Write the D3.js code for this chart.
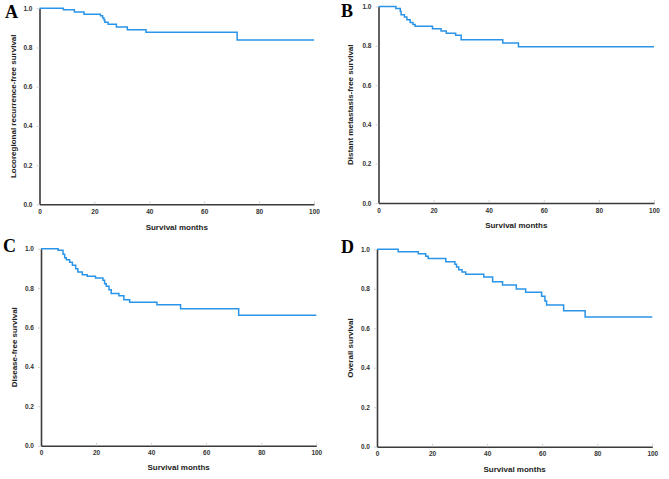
<!DOCTYPE html>
<html>
<head>
<meta charset="utf-8">
<script src="https://cdn.jsdelivr.net/npm/d3@7"></script>
<style>
  html, body { margin: 0; padding: 0; background: #fff; }
  svg { display: block; }
</style>
</head>
<body>
<svg id="chart" width="669" height="479"></svg>
<script>
// ---- Data ----
const panelLetters = ["A", "B", "C", "D"];
const yTitles = [
  "Locoregional recurrence-free survival",
  "Distant metastasis-free survival",
  "Disease-free survival",
  "Overall survival"
];
const xTitle = "Survival months";
const xTicks = [0, 20, 40, 60, 80, 100];
const yTicks = [0.0, 0.2, 0.4, 0.6, 0.8, 1.0];

const monthsA = [0, 8.7, 12.7, 16.2, 22.2, 23.0, 23.5, 23.8, 25.0, 28.0, 32.0, 38.8, 72.0, 100];
const survA   = [1, 0.992, 0.981, 0.970, 0.962, 0.950, 0.940, 0.929, 0.918, 0.905, 0.890, 0.878, 0.838, 0.838];

const monthsB = [0, 6.3, 7.9, 8.2, 9.4, 10.3, 11.5, 12.5, 13.3, 19.6, 22.7, 24.6, 28.0, 30.0, 45.1, 50.8, 100];
const survB   = [1, 0.990, 0.976, 0.958, 0.946, 0.932, 0.919, 0.909, 0.899, 0.887, 0.875, 0.864, 0.854, 0.831, 0.814, 0.795, 0.795];

const monthsC = [0, 6.2, 8.0, 8.6, 9.2, 10.4, 11.4, 12.6, 13.4, 15.0, 16.8, 19.8, 22.5, 23.1, 23.7, 24.7, 25.5, 28.3, 30.1, 32.2, 42.1, 50.7, 71.8, 100];
const survC   = [1, 0.992, 0.972, 0.954, 0.944, 0.931, 0.916, 0.898, 0.882, 0.868, 0.860, 0.851, 0.840, 0.822, 0.809, 0.792, 0.772, 0.761, 0.741, 0.728, 0.716, 0.695, 0.662, 0.662];

const monthsD = [0, 7.7, 15.0, 17.7, 18.6, 25.0, 28.3, 28.9, 29.7, 30.9, 32.2, 38.8, 42.0, 45.6, 50.6, 54.0, 59.8, 61.0, 61.6, 67.8, 75.6, 100];
const survD   = [1, 0.988, 0.978, 0.965, 0.954, 0.937, 0.924, 0.910, 0.897, 0.885, 0.873, 0.860, 0.836, 0.819, 0.799, 0.782, 0.762, 0.738, 0.718, 0.689, 0.657, 0.657];

const seriesMonths = [monthsA, monthsB, monthsC, monthsD];
const seriesSurv = [survA, survB, survC, survD];

// ---- Layout (plot frames in pixels) ----
const frames = [
  { x0: 39.5, x1: 314.0, yTop: 8.3,   yBot: 204.3, letterX: 5,   letterY: 17.5, titleX: 13.5,  xTitleY: 227.5 },
  { x0: 378.5, x1: 654.0, yTop: 6.5,  yBot: 203.0, letterX: 341, letterY: 16.5, titleX: 350.5, xTitleY: 225.5 },
  { x0: 41.0, x1: 316.3, yTop: 248.7, yBot: 445.7, letterX: 3,   letterY: 251.5, titleX: 15,   xTitleY: 467.5 },
  { x0: 377.0, x1: 652.3, yTop: 249.3, yBot: 446.7, letterX: 341, letterY: 252.5, titleX: 350.5, xTitleY: 469.5 }
];

const svg = d3.select("#chart");
const FONT = "'Liberation Sans', Arial, Helvetica, sans-serif";

frames.forEach((f, i) => {
  const x = d3.scaleLinear().domain([0, 100]).range([f.x0, f.x1]);
  const y = d3.scaleLinear().domain([0, 1]).range([f.yBot, f.yTop]);
  const g = svg.append("g");

  // x axis
  const gx = g.append("g")
    .attr("transform", `translate(0,${f.yBot})`)
    .call(d3.axisBottom(x).tickValues(xTicks).tickFormat(d3.format("d"))
      .tickSizeInner(-3).tickSizeOuter(0).tickPadding(5));
  // y axis
  const gy = g.append("g")
    .attr("transform", `translate(${f.x0},0)`)
    .call(d3.axisLeft(y).tickValues(yTicks).tickFormat(d3.format(".1f"))
      .tickSizeInner(3).tickSizeOuter(0).tickPadding(4));

  [gx, gy].forEach(a => {
    a.select(".domain").attr("stroke", "#3a3a3a").attr("stroke-width", 1.6);
    a.selectAll(".tick line").attr("stroke", "#c8c8c8").attr("stroke-width", 0.8);
    a.selectAll(".tick text")
      .attr("fill", "#333")
      .style("font-family", FONT)
      .style("font-size", "6.5px")
      .style("font-weight", "bold");
  });
  gx.selectAll(".tick line").attr("stroke-width", 0.8);

  // curve
  const pts = seriesMonths[i].map((m, k) => [m, seriesSurv[i][k]]);
  g.append("path")
    .datum(pts)
    .attr("fill", "none")
    .attr("stroke", "#2a94e8")
    .attr("stroke-width", 1.5)
    .attr("d", d3.line().x(d => x(d[0])).y(d => y(d[1])).curve(d3.curveStepAfter));

  // x title
  g.append("text")
    .attr("x", (f.x0 + f.x1) / 2)
    .attr("y", f.xTitleY)
    .attr("text-anchor", "middle")
    .attr("dominant-baseline", "middle")
    .attr("fill", "#222")
    .style("font-family", FONT)
    .style("font-size", "8px")
    .style("font-weight", "bold")
    .text(xTitle);

  // y title
  g.append("text")
    .attr("transform", `translate(${f.titleX},${(f.yTop + f.yBot) / 2}) rotate(-90)`)
    .attr("text-anchor", "middle")
    .attr("dominant-baseline", "middle")
    .attr("fill", "#222")
    .style("font-family", FONT)
    .style("font-size", "8px")
    .style("font-weight", "bold")
    .text(yTitles[i]);

  // panel letter
  g.append("text")
    .attr("x", f.letterX)
    .attr("y", f.letterY)
    .attr("fill", "#000")
    .style("font-family", "'Liberation Serif', 'Times New Roman', serif")
    .style("font-size", "18px")
    .style("font-weight", "bold")
    .text(panelLetters[i]);
});
</script>
</body>
</html>
